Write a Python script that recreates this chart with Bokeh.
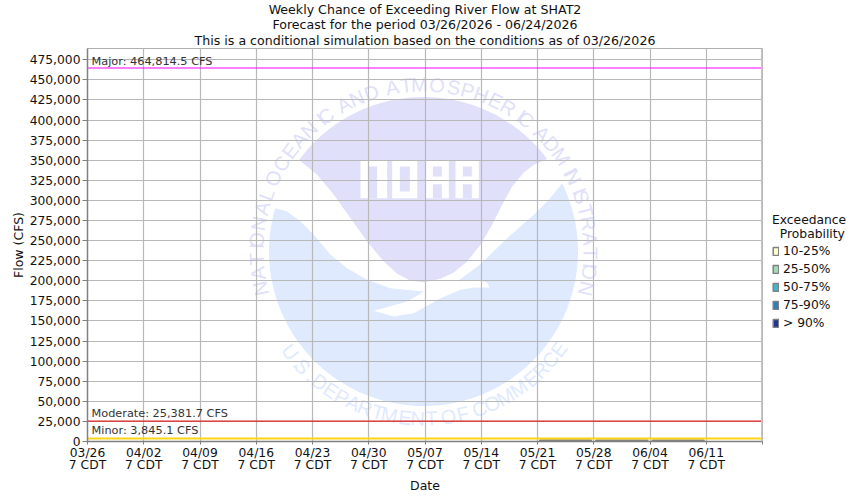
import math
import numpy as np
from bokeh.plotting import figure
from bokeh.models import (Range1d, FixedTicker, NumeralTickFormatter, Label, Legend, LegendItem,
                          Span, Title)
from bokeh.core.properties import value
from bokeh.embed import file_html
from bokeh.resources import INLINE

FONT = "DejaVu Sans"
title_lines = ["Weekly Chance of Exceeding River Flow at SHAT2",
               "Forecast for the period 03/26/2026 - 06/24/2026",
               "This is a conditional simulation based on the conditions as of 03/26/2026"]
title_gaps = [-1.4, -4, 2]
x_tick_days = [0, 7, 14, 21, 28, 35, 42, 49, 56, 63, 70, 77, 84]
x_tick_labels = ["03/26\n7 CDT", "04/02\n7 CDT", "04/09\n7 CDT", "04/16\n7 CDT", "04/23\n7 CDT",
                 "04/30\n7 CDT", "05/07\n7 CDT", "05/14\n7 CDT", "05/21\n7 CDT", "05/28\n7 CDT",
                 "06/04\n7 CDT", "06/11\n7 CDT", ""]
y_ticks = [0, 25000, 50000, 75000, 100000, 125000, 150000, 175000, 200000, 225000, 250000, 275000,
           300000, 325000, 350000, 375000, 400000, 425000, 450000, 475000]
thresholds = [464814.5, 25381.7, 3845.1]
threshold_names = ["Major: 464,814.5 CFS", "Moderate: 25,381.7 CFS", "Minor: 3,845.1 CFS"]
threshold_colors = ["#ff00ff", "#dd2222", "#ffd414"]
threshold_widths = [1.1, 1.1, 2]
threshold_label_px = [60, 412, 429]

week_mid = [59.5, 66.5, 73.5]
band_names = ["10-25%", "25-50%", "50-75%", "75-90%", "> 90%"]
band_colors = ["#ffffcc", "#a1dab4", "#41b6c4", "#2c7fb8", "#253494"]
band_low = [[1300, 1280, 1260], [1200, 1180, 1160], [1100, 1080, 1060], [1000, 980, 960], [900, 880, 860]]
band_high = [[1400, 1380, 1360], [1300, 1280, 1260], [1200, 1180, 1160], [1100, 1080, 1060], [1000, 980, 960]]

p = figure(width=850, height=496, frame_width=675, frame_height=393, output_backend="svg", toolbar_location=None,
           x_range=Range1d(0, 84), y_range=Range1d(0, 489080),
           min_border_left=87, min_border_right=0, min_border_top=47, min_border_bottom=56)
p.background_fill_color = "white"
p.outline_line_color = "#b0b0b0"
# pixel-position ranges for decoration (window coordinates)
p.extra_x_ranges["px"] = Range1d(87, 762)
p.extra_y_ranges["px"] = Range1d(440, 47)

# ---- titles stacked above the frame
p.title = None
for line, gap in zip(reversed(title_lines), reversed(title_gaps)):
    p.add_layout(Title(text=line, align="center", text_font=FONT, text_font_size="12.6px", text_line_height=1.0,
                       text_font_style="normal", text_color="#111111", standoff=gap), "above")

# ---- grid and axes
p.xaxis.ticker = FixedTicker(ticks=x_tick_days)
p.yaxis.ticker = FixedTicker(ticks=y_ticks)
p.xgrid.ticker = FixedTicker(ticks=x_tick_days)
p.ygrid.ticker = FixedTicker(ticks=y_ticks)
p.xaxis.major_label_overrides = dict(zip(x_tick_days, x_tick_labels))
p.yaxis.formatter = NumeralTickFormatter(format="0,0")
for g in (p.xgrid, p.ygrid):
    g.grid_line_color = "#b8b8b8"
    g.grid_line_width = 1.2
    g.level = "underlay"
for a in (p.xaxis, p.yaxis):
    a.axis_line_color = "#808080"
    a.axis_line_width = 1.5
    a.major_tick_line_color = "#808080"
    a.minor_tick_line_color = None
    a.major_tick_in = 0
    a.major_label_text_font = FONT
    a.major_label_text_font_size = "12.3px"
    a.major_label_text_color = "#111111"
    a.major_label_text_line_height = 0.9
    a.axis_label_text_font = FONT
    a.axis_label_text_font_size = "12.5px"
    a.axis_label_text_font_style = "normal"
    a.axis_label_text_color = "#111111"
p.xaxis.major_tick_out = 3
p.yaxis.major_tick_out = 5
p.xaxis.major_label_standoff = 1
p.yaxis.major_label_standoff = 2
p.xaxis.axis_label = "Date"
p.yaxis.axis_label = "Flow (CFS)"
p.xaxis.axis_label_standoff = 3
p.yaxis.axis_label_standoff = 1

# ---- NOAA logo watermark, in pixel positions
PURPLE = "#e0e0fb"
BLUE = "#dfeaff"
WHITE = "#ffffff"
CX, CY, R = 423.0, 250.0, 154.5
def zx(v): return v / 3 + 240
def zy(v): return v / 3 + 70
def arc(a0, a1, n=80):
    t = np.radians(np.linspace(a0, a1, n))
    return list(CX + R * np.cos(t)), list(CY - R * np.sin(t))
def zoomed(points):
    return [zx(a) for a, _ in points], [zy(b) for _, b in points]
def logo(xs, ys, color):
    p.patch(xs, ys, fill_color=color, line_color=None, level="image",
            x_range_name="px", y_range_name="px")

a_left = math.degrees(math.atan2(275, -374))
a_right = math.degrees(math.atan2(275, 366))
ax, ay = arc(a_left, a_right)
cx_, cy_ = zoomed([(915, 265), (880, 280), (850, 303), (815, 345), (785, 400), (755, 460), (720, 520), (680, 570),
                   (640, 603), (600, 622), (550, 632), (510, 628), (470, 607), (430, 570), (380, 510), (330, 440),
                   (280, 370), (230, 310), (175, 265)])
logo(ax + cx_, ay + cy_, PURPLE)

a_start = math.degrees(math.atan2(130, -444))
a_end = 360 + math.degrees(math.atan2(205, 416))
bx, by = arc(a_start, a_end, 140)
dx_, dy_ = zoomed([(965, 335), (925, 385), (880, 430), (800, 500), (720, 578), (650, 630), (710, 625), (740, 633),
                   (747, 648), (700, 648), (660, 655), (600, 680), (520, 725), (460, 735), (400, 718), (500, 690),
                   (550, 660), (450, 650), (380, 625), (320, 590), (270, 550), (220, 490), (180, 450), (140, 420),
                   (105, 410)])
logo(bx + dx_, by + dy_, BLUE)

def lx(v): return v / 3 + 350
def ly(v): return v / 3 + 150
def block(x0, x1, y0, y1, color):
    logo([lx(x0), lx(x1), lx(x1), lx(x0)], [ly(y0), ly(y0), ly(y1), ly(y1)], color)
block(30, 110, 28, 140, WHITE)      # N
block(55, 80, 45, 140, PURPLE)
block(125, 200, 28, 140, WHITE)     # O
block(148, 178, 45, 120, PURPLE)
for off in (0, 90):                 # A A
    block(225 + off, 295 + off, 28, 140, WHITE)
    block(247 + off, 274 + off, 45, 75, PURPLE)
    block(247 + off, 274 + off, 98, 140, PURPLE)

HELV = dict(A=.667, B=.667, C=.722, D=.722, E=.667, F=.611, I=.278, L=.556, M=.833, N=.722, O=.778, P=.667,
            R=.722, S=.667, T=.611, U=.722, H=.722, G=.778)
def ring_text(text, a0, a1, color, top):
    w = [HELV.get(c, .278) for c in text]
    total = sum(w[1:-1]) + (w[0] + w[-1]) / 2
    pos = w[0] / 2
    xs, ys, angs, chars = [], [], [], []
    for c, wi in zip(text, w):
        frac = (pos - w[0] / 2) / total
        th = math.radians(a0 + (a1 - a0) * frac)
        pos += wi
        if c == " ":
            continue
        xs.append(CX + 167 * math.cos(th))
        ys.append(CY - 167 * math.sin(th))
        angs.append(th - math.pi / 2 if top else th + math.pi / 2)
        chars.append(c)
    p.text(xs, ys, text=chars, angle=angs, text_color=color, text_font=value("Liberation Sans"),
           text_font_size="20px", text_align="center", text_baseline="middle", level="image",
           x_range_name="px", y_range_name="px")
ring_text("NATIONAL OCEANIC AND ATMOSPHERIC ADMINISTRATION", 192.8, -12.8, PURPLE, True)
ring_text("U.S. DEPARTMENT OF COMMERCE", 217, 324, BLUE, False)

# ---- exceedance bars
items = []
for name, color, lo, hi in zip(band_names, band_colors, band_low, band_high):
    r = p.vbar(x=week_mid, width=6.4, bottom=lo, top=hi, fill_color=color, line_color="#808080", line_width=1.5,
               level="glyph")
    items.append(LegendItem(label=name, renderers=[r]))
legend = Legend(items=items, location=(10, 111), orientation="vertical", background_fill_alpha=0,
                title="Exceedance\n\u00a0\u00a0Probability", title_text_font=FONT, title_text_font_size="12.3px",
                title_text_font_style="normal", title_text_color="#111111", title_standoff=3,
                border_line_color=None, margin=0, padding=0, spacing=4, glyph_width=7, glyph_height=10,
                label_height=10, label_standoff=4, label_text_font=FONT, label_text_font_size="12.3px",
                label_text_color="#111111", click_policy="none")
p.add_layout(legend, "right")

# ---- thresholds
for val, name, color, lw, ypx in zip(thresholds, threshold_names, threshold_colors, threshold_widths, threshold_label_px):
    p.line([0, 84], [val, val], line_color=color, line_width=lw, level="glyph")
    p.add_layout(Label(x=91, y=ypx, text=name, x_range_name="px", y_range_name="px", text_font=FONT,
                       text_font_size="11.3px", text_color="#333333", text_baseline="middle"))

p.add_layout(Span(location=84, dimension="height", line_color="#c4c4c4", line_width=3, level="guide"))

open("out.html", "w").write(file_html(p, INLINE))
